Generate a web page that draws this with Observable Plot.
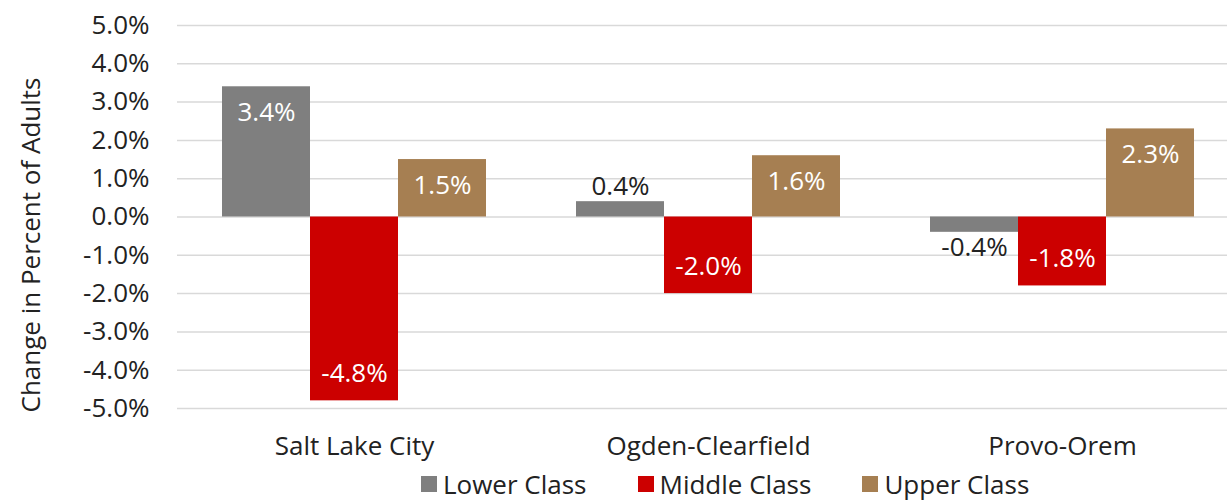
<!DOCTYPE html>
<html>
<head>
<meta charset="utf-8">
<script src="https://cdn.jsdelivr.net/npm/d3@7"></script>
<script src="https://cdn.jsdelivr.net/npm/@observablehq/plot@0.6"></script>
<style>
  html, body { margin: 0; padding: 0; background: #fff; overflow: hidden; }
  #wrap { position: relative; width: 1227px; height: 504px; overflow: hidden; font-family: "Open Sans", sans-serif; }
  #chart { position: absolute; left: 0; top: 0; }
  #chart svg { max-width: none !important; }
  #ylabel { position: absolute; left: 30px; top: 245px; transform: translate(-50%, -50%) rotate(-90deg);
            white-space: nowrap; font-size: 26px; color: #222; }
  #legend { position: absolute; left: 421px; top: 471px; display: flex; align-items: center;
            font-size: 26px; line-height: 26px; color: #222; white-space: nowrap; }
  .item { display: flex; align-items: center; margin-right: 51px; }
  .sw { width: 16px; height: 16px; margin-right: 6px; }
</style>
</head>
<body>
<div id="wrap">
  <div id="chart"></div>
  <div id="ylabel"></div>
  <div id="legend"></div>
</div>
<script>
const cities = ["Salt Lake City", "Ogden-Clearfield", "Provo-Orem"];
const classes = ["Lower Class", "Middle Class", "Upper Class"];
const lowerClass = [3.4, 0.4, -0.4];
const middleClass = [-4.8, -2.0, -1.8];
const upperClass = [1.5, 1.6, 2.3];
const classColors = ["#7f7f7f", "#cc0000", "#a67f52"];
const yTicks = [-5, -4, -3, -2, -1, 0, 1, 2, 3, 4, 5];
const yLabel = "Change in Percent of Adults";

const series = [lowerClass, middleClass, upperClass];
const data = cities.flatMap((city, i) =>
  classes.map((cls, j) => ({city, cls, value: series[j][i]})));

const fmt = v => v.toFixed(1) + "%";
const big = d => Math.abs(d.value) >= 1;

const chart = Plot.plot({
  width: 1240,
  height: 470,
  marginLeft: 176,
  marginRight: 0,
  marginTop: 25,
  marginBottom: 62,
  style: {fontFamily: "Open Sans, sans-serif", fontSize: "26px", color: "#222", background: "white", overflow: "visible", maxWidth: "none"},
  fx: {domain: cities, padding: 0, label: null},
  x: {domain: classes, paddingInner: 0, paddingOuter: 0.5, axis: null},
  y: {domain: [-5, 5], label: null},
  color: {domain: classes, range: classColors},
  marks: [
    Plot.gridY(yTicks, {stroke: "#d9d9d9", strokeOpacity: 1, strokeWidth: 1.5}),
    Plot.barY(data, {fx: "city", x: "cls", y: "value", fill: "cls", inset: 0}),
    Plot.text(data.filter(d => big(d) && d.value > 0), {fx: "city", x: "cls", y: "value", text: d => fmt(d.value), fill: "white", dy: 26, fontSize: 26}),
    Plot.text(data.filter(d => big(d) && d.value < 0), {fx: "city", x: "cls", y: "value", text: d => fmt(d.value), fill: "white", dy: -27, fontSize: 26}),
    Plot.text(data.filter(d => !big(d) && d.value > 0), {fx: "city", x: "cls", y: "value", text: d => fmt(d.value), fill: "#222", dy: -15, fontSize: 26}),
    Plot.text(data.filter(d => !big(d) && d.value < 0), {fx: "city", x: "cls", y: "value", text: d => fmt(d.value), fill: "#222", dy: 15, fontSize: 26}),
    Plot.axisY(yTicks, {tickSize: 0, tickPadding: 28, tickFormat: fmt, label: null, fontSize: 26}),
    Plot.axisFx({anchor: "bottom", tickSize: 0, tickPadding: 28, label: null, fontSize: 26})
  ]
});
document.getElementById("chart").appendChild(chart);
document.getElementById("ylabel").textContent = yLabel;

const legend = document.getElementById("legend");
classes.forEach((c, i) => {
  const item = document.createElement("div");
  item.className = "item";
  const sw = document.createElement("div");
  sw.className = "sw";
  sw.style.background = classColors[i];
  const t = document.createElement("span");
  t.textContent = c;
  item.appendChild(sw);
  item.appendChild(t);
  legend.appendChild(item);
});
</script>
</body>
</html>
